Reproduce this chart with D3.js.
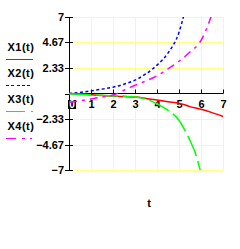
<!DOCTYPE html>
<html>
<head>
<meta charset="utf-8">
<script src="https://cdn.jsdelivr.net/npm/d3@7"></script>
<style>
body { margin: 0; background: #fff; }
text { font-family: "Liberation Sans", Arial, sans-serif; font-weight: bold; }
</style>
</head>
<body>
<svg width="240" height="249"></svg>
<script>
// values
var tX1 = [0, 0.5, 1, 1.5, 2, 2.5, 3, 3.5, 4, 4.5, 5, 5.5, 6, 6.5, 7];
var X1 = [0, -0.05, -0.12, -0.18, -0.24, -0.28, -0.32, -0.45, -0.6, -0.75, -0.88, -1.2, -1.45, -1.75, -2.1];
var tX2 = [0, 0.5, 1, 1.5, 2, 2.5, 3, 3.5, 4, 4.5, 5, 5.25];
var X2 = [0, 0.1, 0.24, 0.4, 0.58, 0.85, 1.22, 1.8, 2.6, 3.7, 5.6, 7.4];
var tX3 = [0, 0.5, 1, 1.5, 2, 2.5, 3, 3.5, 4, 4.5, 5, 5.25, 5.5, 5.75, 6];
var X3 = [-0.03, -0.07, -0.12, -0.17, -0.22, -0.26, -0.32, -0.52, -0.95, -1.55, -2.45, -3.3, -4.3, -5.5, -7.3];
var tX4 = [0, 0.5, 1, 1.5, 2, 2.5, 3, 3.5, 4, 4.5, 5, 5.5, 6, 6.25, 6.5];
var X4 = [-0.8, -0.68, -0.5, -0.32, -0.14, 0.3, 0.75, 1.15, 1.62, 2.25, 2.95, 3.8, 4.85, 5.9, 7.3];
var yTicks = [7, 4.67, 2.33, 0, -2.33, -4.67, -7];
var yTickLabels = ["7", "4.67", "2.33", "", "\u22122.33", "\u22124.67", "\u22127"];
var xTicks = [0, 1, 2, 3, 4, 5, 6, 7];
var names = ["X1(t)", "X2(t)", "X3(t)", "X4(t)"];

var svg = d3.select("svg");
var x = d3.scaleLinear().domain([0, 7]).range([69, 223]);
var y = d3.scaleLinear().domain([-7, 7]).range([170, 17]);

// yellow grid
svg.selectAll(".gh").data(yTicks.filter(function(d){ return d != 0; })).enter()
  .append("line")
  .attr("x1", 73).attr("x2", x(7))
  .attr("y1", function(d){ return Math.round(y(d)) + 0.5; })
  .attr("y2", function(d){ return Math.round(y(d)) + 0.5; })
  .attr("stroke", "#ffff80").attr("stroke-width", 1);
svg.selectAll(".gv").data(xTicks.slice(1)).enter()
  .append("line")
  .attr("x1", function(d){ return Math.round(x(d)) + 0.5; })
  .attr("x2", function(d){ return Math.round(x(d)) + 0.5; })
  .attr("y1", y(7)).attr("y2", y(-7))
  .attr("stroke", "#ffff80").attr("stroke-width", 1);

// axes
svg.append("line").attr("x1", 69.5).attr("x2", 69.5).attr("y1", y(7)).attr("y2", y(-7))
  .attr("stroke", "#000");
svg.append("line").attr("x1", 69).attr("x2", x(7) + 0.5).attr("y1", 93.5).attr("y2", 93.5)
  .attr("stroke", "#000");

svg.selectAll(".yt").data(yTicks).enter()
  .append("line")
  .attr("x1", 65).attr("x2", function(d){ return d == 0 ? 69 : 73; })
  .attr("y1", function(d){ return Math.round(y(d)) + 0.5; })
  .attr("y2", function(d){ return Math.round(y(d)) + 0.5; })
  .attr("stroke", "#000");
svg.selectAll(".yl").data(yTicks).enter()
  .append("text")
  .attr("x", 64)
  .attr("y", function(d){ return y(d) + 4; })
  .attr("text-anchor", "end")
  .attr("font-size", 11)
  .text(function(d, i){ return yTickLabels[i]; });

svg.selectAll(".xt").data(xTicks.slice(1)).enter()
  .append("line")
  .attr("x1", function(d){ return Math.round(x(d)) + 0.5; })
  .attr("x2", function(d){ return Math.round(x(d)) + 0.5; })
  .attr("y1", 89.5).attr("y2", 93.5)
  .attr("stroke", "#000");
svg.selectAll(".xl").data(xTicks.slice(1)).enter()
  .append("text")
  .attr("x", function(d){ return x(d) + 0.5; })
  .attr("y", 108)
  .attr("text-anchor", "middle")
  .attr("font-size", 11)
  .text(function(d){ return d; });
svg.append("rect").attr("x", 68).attr("y", 100).attr("width", 8).attr("height", 9).attr("fill", "#000");
svg.append("text").attr("x", 72).attr("y", 108).attr("text-anchor", "middle")
  .attr("font-size", 10).attr("fill", "#fff").text("0");

// curves
svg.append("clipPath").attr("id", "clip").append("rect")
  .attr("x", 60).attr("y", y(7)).attr("width", 170).attr("height", y(-7) - y(7));

var series = [
  { t: tX1, v: X1, color: "#ff0000", dash: null, legDash: null },
  { t: tX2, v: X2, color: "#0000ff", dash: "3,2.5", legDash: "3,2.3" },
  { t: tX3, v: X3, color: "#00ff00", dash: "22,5", legDash: "19,6,1.5,20" },
  { t: tX4, v: X4, color: "#ff00ff", dash: "8,5,3,5", legDash: "10,6,3,5,2,20" }
];

var line = d3.line()
  .x(function(d){ return x(d[0]); })
  .y(function(d){ return y(d[1]); })
  .curve(d3.curveMonotoneX);

var legY = [51, 77, 102.5, 129.5];
var legLineY = [59.5, 85.5, 111.5, 138.5];

series.forEach(function(s, i) {
  var pts = s.t.map(function(t, j){ return [t, s.v[j]]; });
  svg.append("path")
    .attr("d", line(pts))
    .attr("fill", "none")
    .attr("stroke", s.color)
    .attr("stroke-width", 1.5)
    .attr("stroke-dasharray", s.dash)
    .attr("clip-path", "url(#clip)");

  // legend
  svg.append("text")
    .attr("x", 7.5).attr("y", legY[i])
    .attr("font-size", 11)
    .attr("letter-spacing", 0.5)
    .text(names[i]);
  svg.append("line")
    .attr("x1", 6).attr("x2", 33)
    .attr("y1", legLineY[i]).attr("y2", legLineY[i])
    .attr("stroke", s.color)
    .attr("stroke-width", 1)
    .attr("shape-rendering", "crispEdges")
    .attr("stroke-dasharray", s.legDash);
});

svg.append("text").attr("x", 149).attr("y", 207).attr("text-anchor", "middle")
  .attr("font-size", 11).text("t");
</script>
</body>
</html>
